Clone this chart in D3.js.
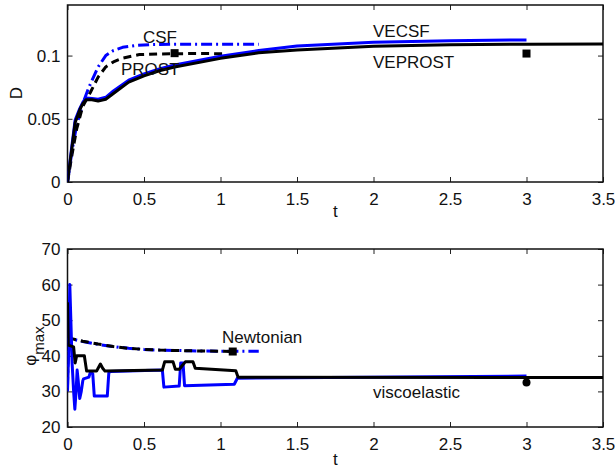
<!DOCTYPE html>
<html>
<head>
<meta charset="utf-8">
<script src="https://cdn.jsdelivr.net/npm/d3@7"></script>
<style>
  body { margin: 0; background: #fff; }
  svg text { font-family: "Liberation Sans", Arial, sans-serif; }
</style>
</head>
<body>
<svg id="chart"></svg>
<script>
// x ticks shared by both panels
const tTicks = [0, 0.5, 1, 1.5, 2, 2.5, 3, 3.5];

// top panel: D(t)
const dTicks = [0, 0.05, 0.1];
const csfT = [0, 0.03, 0.06, 0.1, 0.14, 0.2, 0.25, 0.3, 0.36, 0.45, 0.55, 0.7, 0.9, 1.25];
const csfD = [0, 0.025, 0.045, 0.062, 0.075, 0.091, 0.1, 0.104, 0.1065, 0.108, 0.1087, 0.109, 0.109, 0.109];
const prostT = [0, 0.03, 0.06, 0.1, 0.15, 0.2, 0.25, 0.3, 0.36, 0.47, 0.6, 0.8, 1.02];
const prostD = [0, 0.022, 0.042, 0.06, 0.071, 0.083, 0.091, 0.095, 0.098, 0.1008, 0.1013, 0.1016, 0.1015];
const vecsfT = [0, 0.03, 0.05, 0.08, 0.1, 0.12, 0.16, 0.2, 0.25, 0.3, 0.4, 0.5, 0.6, 0.7, 1.0, 1.25, 1.5, 2.0, 2.5, 3.0];
const vecsfD = [0, 0.03, 0.049, 0.058, 0.063, 0.0665, 0.066, 0.0655, 0.067, 0.072, 0.0805, 0.0855, 0.0895, 0.0925, 0.0995, 0.104, 0.1075, 0.1105, 0.1118, 0.1124];
const veprostT = [0, 0.03, 0.05, 0.08, 0.1, 0.12, 0.16, 0.2, 0.25, 0.3, 0.4, 0.5, 0.6, 0.7, 1.0, 1.25, 1.5, 2.0, 2.5, 3.0, 3.5];
const veprostD = [0, 0.028, 0.047, 0.057, 0.062, 0.065, 0.065, 0.064, 0.0655, 0.07, 0.079, 0.084, 0.088, 0.091, 0.0978, 0.1022, 0.1045, 0.1073, 0.1085, 0.109, 0.1092];
const dMarkT = [0.7, 3];
const dMarkV = [0.1019, 0.1016];

// bottom panel: phi_max(t)
const phiTicks = [20, 30, 40, 50, 60, 70];
const newtT = [0, 0.005, 0.02, 0.05, 0.1, 0.2, 0.3, 0.4, 0.5, 0.6, 0.8, 1.0, 1.25];
const newtBlue = [31, 45, 44.8, 44.5, 44, 43.2, 42.6, 42.1, 41.8, 41.6, 41.4, 41.3, 41.3];
const newtBlackT = [0, 0.005, 0.02, 0.05, 0.1, 0.2, 0.3, 0.4, 0.5, 0.6, 0.8, 1.0, 1.08];
const newtBlack = [34, 45, 44.9, 44.6, 44.1, 43.3, 42.6, 42.1, 41.8, 41.6, 41.4, 41.3, 41.2];
const veBlueT = [0, 0.008, 0.015, 0.022, 0.03, 0.04, 0.048, 0.056, 0.063, 0.07, 0.08, 0.09, 0.1, 0.105, 0.14, 0.15, 0.165, 0.175, 0.26, 0.27, 0.28, 0.62, 0.63, 0.73, 0.74, 0.755, 0.765, 1.09, 1.11, 3.0];
const veBlue = [30, 42, 60, 50, 38, 30, 25, 30, 36, 33, 28, 30, 33, 33.5, 34, 35.5, 35, 28.7, 28.7, 35.2, 35.6, 36, 31.2, 31.5, 38, 38, 31.6, 32, 33.7, 34.3];
const veBlackT = [0, 0.005, 0.04, 0.05, 0.06, 0.11, 0.125, 0.19, 0.2, 0.215, 0.23, 0.245, 0.62, 0.635, 0.69, 0.705, 0.73, 0.745, 0.77, 0.82, 0.835, 1.1, 1.115, 3.5];
const veBlack = [55, 43, 42.5, 38, 40, 40, 35.7, 35.7, 36.5, 37.7, 36.5, 35.7, 36, 38.3, 38.3, 36.2, 36.2, 37, 38.3, 38.3, 36.5, 35.8, 34, 33.9];
const phiSqT = [1.08], phiSqV = [41.2];
const phiDotT = [3], phiDotV = [32.5];

const W = 615, H = 468;
const svg = d3.select('#chart').attr('width', W).attr('height', H);
svg.append('rect').attr('width', W).attr('height', H).attr('fill', '#fff');

const left = 67.5, right = 603;
const x = d3.scaleLinear().domain([0, 3.5]).range([left, right]);
const yTop = d3.scaleLinear().domain([0, 0.14]).range([182, 5]);
const yBot = d3.scaleLinear().domain([20, 70]).range([427, 249]);

const BLUE = '#0000ff';

function panel(id, y, yticks, yfmt) {
  const g = svg.append('g');
  const [y0, y1] = y.range();
  svg.append('clipPath').attr('id', id).append('rect')
    .attr('x', left).attr('y', y1).attr('width', right - left).attr('height', y0 - y1);

  const ax = (axis, tx, ty) => {
    const a = g.append('g').attr('transform', `translate(${tx},${ty})`).call(axis);
    a.select('.domain').remove();
    a.selectAll('line').attr('stroke', '#222').attr('stroke-width', 1);
    a.selectAll('text').style('font-size', '17px').attr('fill', '#111');
    return a;
  };
  const bx = ax(d3.axisBottom(x).tickValues(tTicks).tickSize(-5).tickPadding(8).tickFormat(d3.format('')), 0, y0);
  bx.selectAll('text').attr('dy', '0.9em');
  ax(d3.axisTop(x).tickValues(tTicks).tickSize(-5).tickFormat(''), 0, y1);
  ax(d3.axisLeft(y).tickValues(yticks).tickSize(-5).tickPadding(7).tickFormat(yfmt), left, 0);
  ax(d3.axisRight(y).tickValues(yticks).tickSize(-5).tickFormat(''), right, 0);

  g.append('rect').attr('x', left).attr('y', y1).attr('width', right - left).attr('height', y0 - y1)
    .attr('fill', 'none').attr('stroke', '#111').attr('stroke-width', 1.5);

  return svg.append('g').attr('clip-path', `url(#${id})`);
}

function series(g, y, ts, vs, color, dash) {
  const line = d3.line().x((d, i) => x(ts[i])).y(d => y(d));
  g.append('path').datum(vs).attr('d', line)
    .attr('fill', 'none').attr('stroke', color).attr('stroke-width', 3)
    .attr('stroke-linejoin', 'round')
    .attr('stroke-dasharray', dash || null);
}

function label(txt, px, py) {
  svg.append('text').attr('x', px).attr('y', py).style('font-size', '17px').attr('fill', '#111').text(txt);
}

// ---- top panel
const topPlot = panel('clipTop', yTop, dTicks, d => d === 0 ? '0' : String(d));
label('CSF', 143, 43);
label('PROST', 121, 75);
label('VECSF', 373, 37);
label('VEPROST', 373, 68);
series(topPlot, yTop, csfT, csfD, BLUE, '11,4,2,4');
series(topPlot, yTop, prostT, prostD, '#000', '8,5');
series(topPlot, yTop, vecsfT, vecsfD, BLUE);
series(topPlot, yTop, veprostT, veprostD, '#000');
topPlot.selectAll('rect.m').data(dMarkT).enter().append('rect').attr('class', 'm')
  .attr('x', d => x(d) - 4).attr('y', (d, i) => yTop(dMarkV[i]) - 4)
  .attr('width', 8).attr('height', 8).attr('fill', '#000');

svg.append('text').attr('x', x(1.75)).attr('y', 217).attr('text-anchor', 'middle')
  .style('font-size', '17px').attr('fill', '#111').text('t');
svg.append('text').attr('transform', 'translate(22,93) rotate(-90)').attr('text-anchor', 'middle')
  .style('font-size', '17px').attr('fill', '#111').text('D');

// ---- bottom panel
const botPlot = panel('clipBot', yBot, phiTicks, d3.format('d'));
label('Newtonian', 222, 343);
label('viscoelastic', 373, 398);
series(botPlot, yBot, newtT, newtBlue, BLUE, '11,4,2,4');
series(botPlot, yBot, newtBlackT, newtBlack, '#000', '8,5');
series(botPlot, yBot, veBlueT, veBlue, BLUE);
series(botPlot, yBot, veBlackT, veBlack, '#000');
botPlot.selectAll('rect.m').data(phiSqT).enter().append('rect').attr('class', 'm')
  .attr('x', d => x(d) - 4).attr('y', (d, i) => yBot(phiSqV[i]) - 4)
  .attr('width', 8).attr('height', 8).attr('fill', '#000');
botPlot.selectAll('circle.m').data(phiDotT).enter().append('circle').attr('class', 'm')
  .attr('cx', d => x(d)).attr('cy', (d, i) => yBot(phiDotV[i])).attr('r', 4).attr('fill', '#000');

svg.append('text').attr('x', x(1.75)).attr('y', 465).attr('text-anchor', 'middle')
  .style('font-size', '17px').attr('fill', '#111').text('t');
const phiLab = svg.append('text').attr('transform', 'translate(36,346) rotate(-90)')
  .attr('text-anchor', 'middle').style('font-size', '17px').attr('fill', '#111');
phiLab.append('tspan').text('φ');
phiLab.append('tspan').attr('dy', 8).style('font-size', '15px').text('max');
</script>
</body>
</html>
